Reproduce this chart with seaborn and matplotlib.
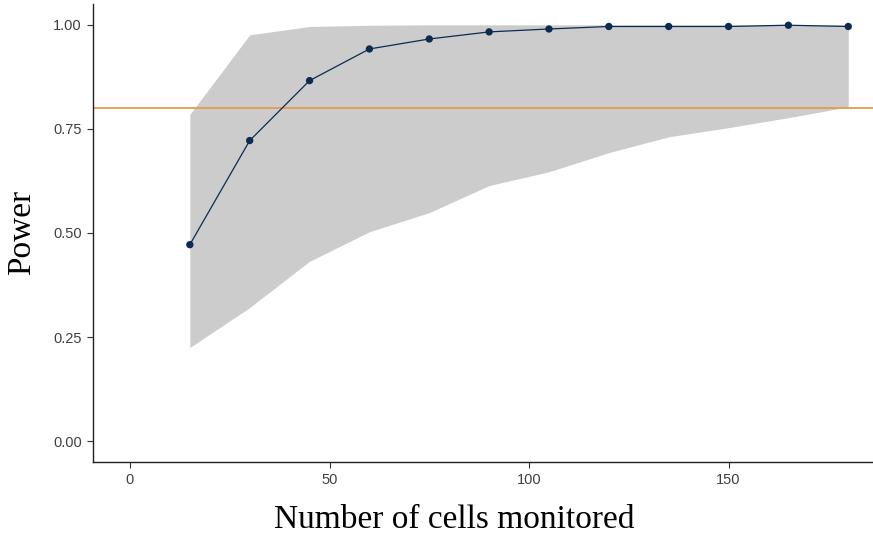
import matplotlib
matplotlib.use("Agg")
import matplotlib.pyplot as plt
import seaborn as sns
import pandas as pd

cells = [15, 30, 45, 60, 75, 90, 105, 120, 135, 150, 165, 180]
power = [0.472, 0.722, 0.866, 0.942, 0.966, 0.983, 0.990, 0.996, 0.996, 0.996, 0.999, 0.996]
upper = [0.785, 0.976, 0.996, 0.999, 1.0, 1.0, 1.0, 1.0, 1.0, 1.0, 1.0, 1.0]
lower = [0.225, 0.321, 0.432, 0.503, 0.549, 0.614, 0.647, 0.693, 0.731, 0.753, 0.777, 0.803]
threshold = 0.80
xticks = [0, 50, 100, 150]
yticks = [0.00, 0.25, 0.50, 0.75, 1.00]
ytick_labels = ["0.00", "0.25", "0.50", "0.75", "1.00"]

df = pd.DataFrame({"cells": cells, "power": power, "lower": lower, "upper": upper})

sns.set_style("ticks")
fig = plt.figure(figsize=(8.73, 5.37), dpi=100)
ax = fig.add_axes([93 / 873, 1 - 462 / 537, 1 - 93 / 873, (462 - 4) / 537])

ax.fill_between(df["cells"], df["lower"], df["upper"], color="#CCCCCC", linewidth=0, zorder=1)
ax.axhline(threshold, color="#E8994F", linewidth=1.3, zorder=2)
sns.lineplot(data=df, x="cells", y="power", ax=ax, color="#0B2B53", linewidth=0.9, zorder=3)
sns.scatterplot(data=df, x="cells", y="power", ax=ax, color="#0B2B53", s=28, edgecolor="none", zorder=4)

ax.set_xlim(-9.27, 186.2)
ax.set_ylim(-0.05, 1.05)
ax.set_xticks(xticks)
ax.set_xticklabels([str(t) for t in xticks])
ax.set_yticks(yticks)
ax.set_yticklabels(ytick_labels)
ax.tick_params(axis="both", labelsize=10.5, labelcolor="#404040", color="#333333", length=4, width=0.8, pad=4)
for lab in ax.get_xticklabels() + ax.get_yticklabels():
    lab.set_family("Liberation Sans")

ax.set_xlabel("Number of cells monitored", fontsize=24, family="Liberation Serif", color="black")
ax.set_ylabel("Power", fontsize=24, family="Liberation Serif", color="black")
ax.xaxis.set_label_coords(0.463, -0.127)
ax.yaxis.set_label_coords(-0.091, 0.502)
ax.xaxis.label.set_va("center")
ax.yaxis.label.set_va("center")
for s in ["top", "right"]:
    ax.spines[s].set_visible(False)
for s in ["left", "bottom"]:
    ax.spines[s].set_color("#222222")
    ax.spines[s].set_linewidth(1.0)

fig.savefig("out.png", dpi=100)
